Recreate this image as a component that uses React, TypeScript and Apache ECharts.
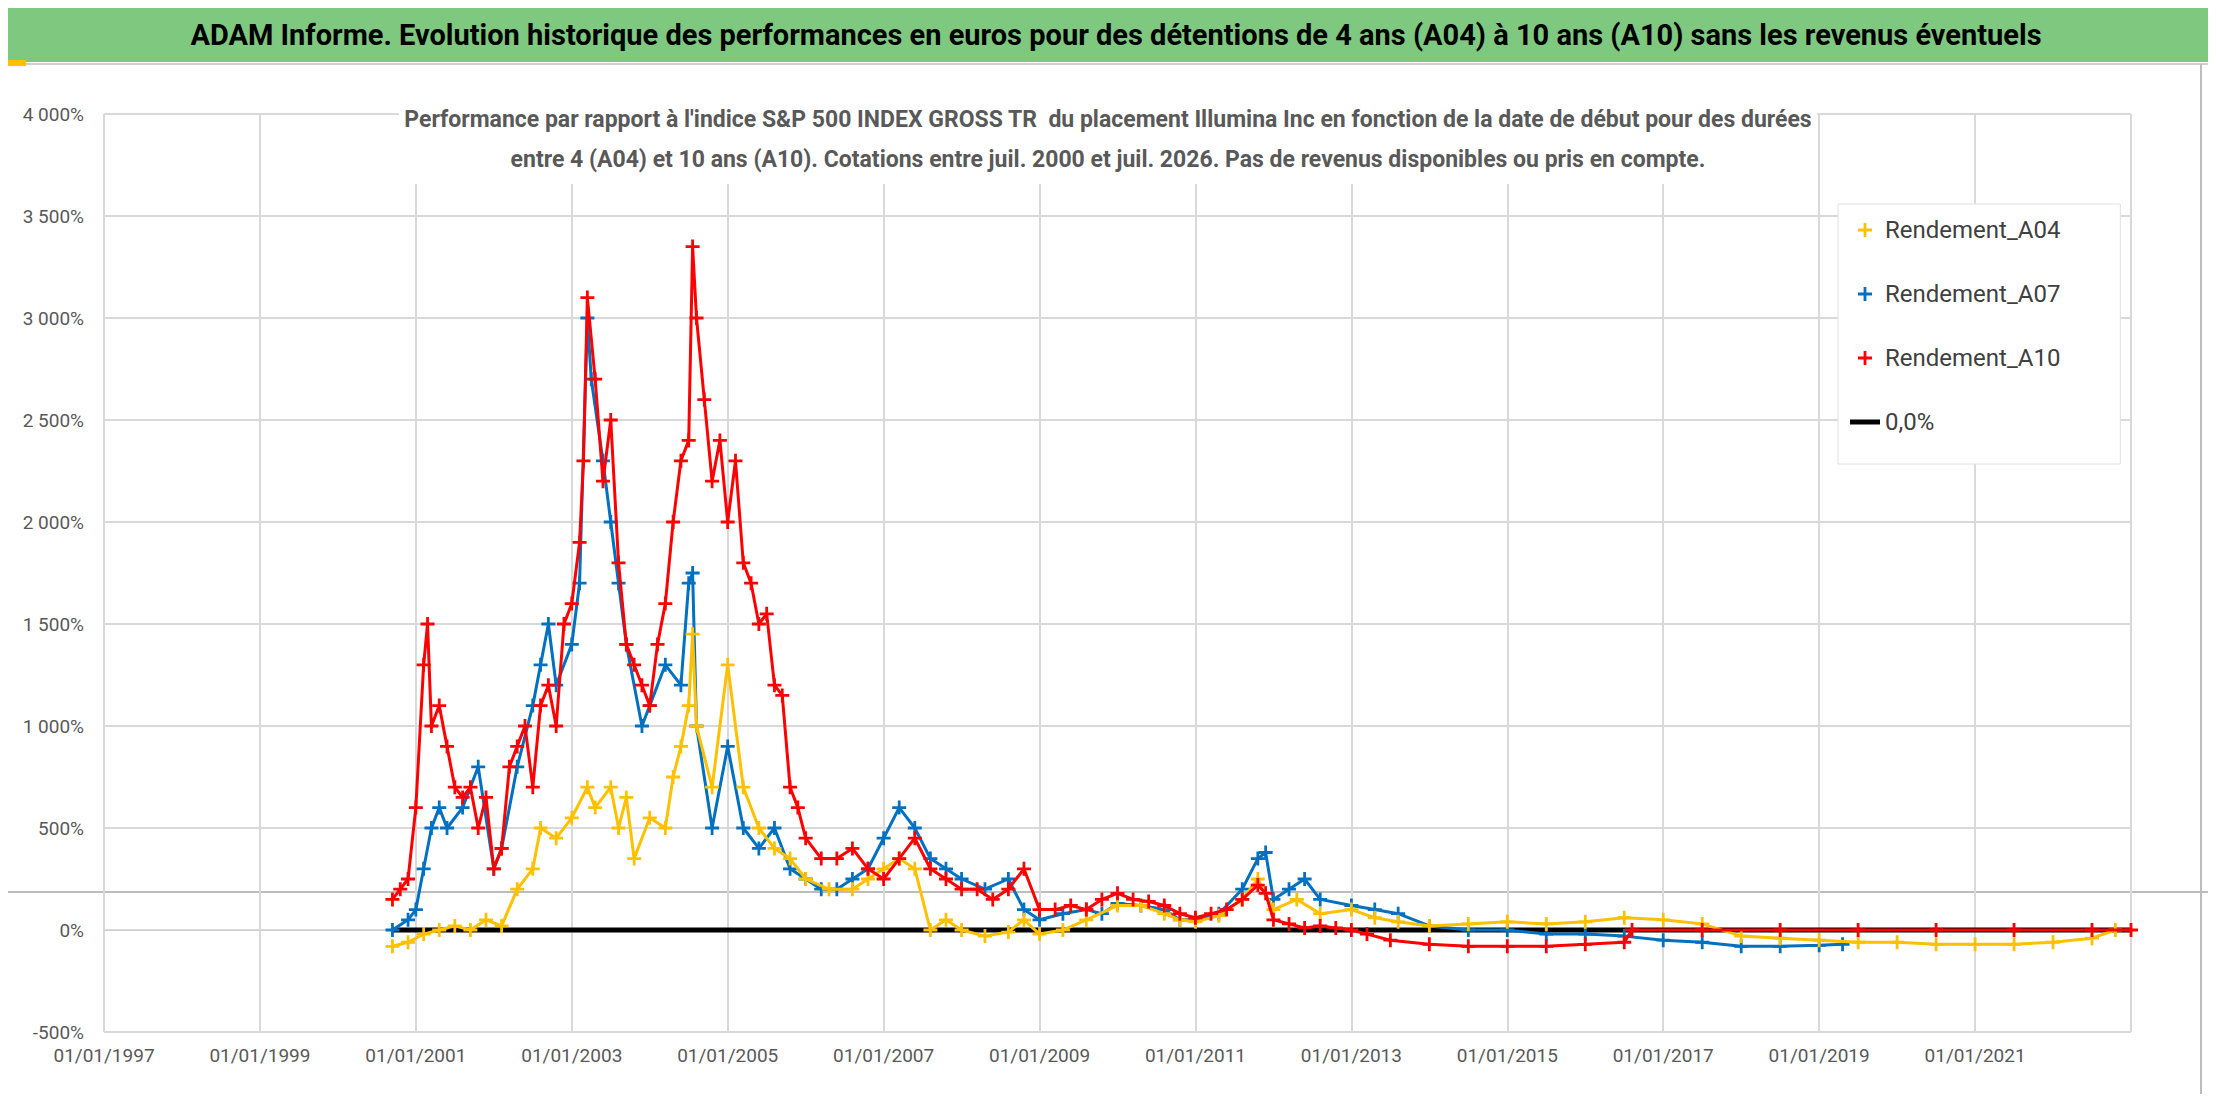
import { useEffect, useRef } from 'react';
import * as echarts from 'echarts';

const years = [1997, 1999, 2001, 2003, 2005, 2007, 2009, 2011, 2013, 2015, 2017, 2019, 2021];

const a10: [number, number][] = [
  [2000.7, 150], [2000.8, 200], [2000.9, 250], [2001.0, 600], [2001.1, 1300], [2001.15, 1500], [2001.2, 1000],
  [2001.3, 1100], [2001.4, 900], [2001.5, 700], [2001.6, 650], [2001.7, 700], [2001.8, 500], [2001.9, 650],
  [2002.0, 300], [2002.1, 400], [2002.2, 800], [2002.3, 900], [2002.4, 1000], [2002.5, 700], [2002.6, 1100],
  [2002.7, 1200], [2002.8, 1000], [2002.9, 1500], [2003.0, 1600], [2003.1, 1900], [2003.15, 2300], [2003.2, 3100],
  [2003.3, 2700], [2003.4, 2200], [2003.5, 2500], [2003.6, 1800], [2003.7, 1400], [2003.8, 1300], [2003.9, 1200],
  [2004.0, 1100], [2004.1, 1400], [2004.2, 1600], [2004.3, 2000], [2004.4, 2300], [2004.5, 2400], [2004.55, 3350],
  [2004.6, 3000], [2004.7, 2600], [2004.8, 2200], [2004.9, 2400], [2005.0, 2000], [2005.1, 2300], [2005.2, 1800],
  [2005.3, 1700], [2005.4, 1500], [2005.5, 1550], [2005.6, 1200], [2005.7, 1150], [2005.8, 700], [2005.9, 600],
  [2006.0, 450], [2006.2, 350], [2006.4, 350], [2006.6, 400], [2006.8, 300], [2007.0, 250], [2007.2, 350],
  [2007.4, 450], [2007.6, 300], [2007.8, 250], [2008.0, 200], [2008.2, 200], [2008.4, 150], [2008.6, 200],
  [2008.8, 300], [2009.0, 100], [2009.2, 100], [2009.4, 120], [2009.6, 100], [2009.8, 150], [2010.0, 180],
  [2010.2, 150], [2010.4, 140], [2010.6, 120], [2010.8, 80], [2011.0, 60], [2011.2, 80], [2011.4, 100],
  [2011.6, 150], [2011.8, 220], [2011.9, 180], [2012.0, 50], [2012.2, 30], [2012.4, 10], [2012.6, 20],
  [2012.8, 10], [2013.0, 0], [2013.2, -20], [2013.5, -50], [2014.0, -70], [2014.5, -80], [2015.0, -80],
  [2015.5, -80], [2016.0, -70], [2016.5, -60], [2016.6, 0], [2017.5, 0], [2018.5, 0], [2019.5, 0],
  [2020.5, 0], [2021.5, 0], [2022.5, 0], [2023.0, 0],
];

const a07: [number, number][] = [
  [2000.7, 0], [2000.9, 50], [2001.0, 100], [2001.1, 300], [2001.2, 500], [2001.3, 600], [2001.4, 500],
  [2001.6, 600], [2001.8, 800], [2002.0, 300], [2002.1, 400], [2002.3, 800], [2002.5, 1100], [2002.6, 1300],
  [2002.7, 1500], [2002.8, 1200], [2003.0, 1400], [2003.1, 1700], [2003.2, 3000], [2003.25, 2700],
  [2003.4, 2300], [2003.5, 2000], [2003.6, 1700], [2003.7, 1400], [2003.9, 1000], [2004.0, 1100],
  [2004.2, 1300], [2004.4, 1200], [2004.5, 1700], [2004.55, 1750], [2004.6, 1000], [2004.8, 500],
  [2005.0, 900], [2005.2, 500], [2005.4, 400], [2005.6, 500], [2005.8, 300], [2006.0, 250], [2006.2, 200],
  [2006.4, 200], [2006.6, 250], [2006.8, 300], [2007.0, 450], [2007.2, 600], [2007.4, 500], [2007.6, 350],
  [2007.8, 300], [2008.0, 250], [2008.3, 200], [2008.6, 250], [2008.8, 100], [2009.0, 50], [2009.3, 80],
  [2009.6, 100], [2009.8, 80], [2010.0, 130], [2010.3, 120], [2010.6, 100], [2010.8, 50], [2011.0, 50],
  [2011.3, 80], [2011.6, 200], [2011.8, 350], [2011.9, 380], [2012.0, 150], [2012.2, 200], [2012.4, 250],
  [2012.6, 150], [2013.0, 120], [2013.3, 100], [2013.6, 80], [2014.0, 20], [2014.5, 0], [2015.0, 0],
  [2015.5, -20], [2016.0, -20], [2016.5, -30], [2017.0, -50], [2017.5, -60], [2018.0, -80], [2018.5, -80],
  [2019.0, -75], [2019.3, -70],
];

const a04: [number, number][] = [
  [2000.7, -80], [2000.9, -60], [2001.1, -20], [2001.3, 0], [2001.5, 20], [2001.7, 0], [2001.9, 50],
  [2002.1, 20], [2002.3, 200], [2002.5, 300], [2002.6, 500], [2002.8, 450], [2003.0, 550], [2003.2, 700],
  [2003.3, 600], [2003.5, 700], [2003.6, 500], [2003.7, 650], [2003.8, 350], [2004.0, 550], [2004.2, 500],
  [2004.3, 750], [2004.4, 900], [2004.5, 1100], [2004.55, 1450], [2004.6, 1000], [2004.8, 700],
  [2005.0, 1300], [2005.2, 700], [2005.4, 500], [2005.6, 400], [2005.8, 350], [2006.0, 250], [2006.3, 200],
  [2006.6, 200], [2006.8, 250], [2007.0, 300], [2007.2, 350], [2007.4, 300], [2007.6, 0], [2007.8, 50],
  [2008.0, 0], [2008.3, -30], [2008.6, -10], [2008.8, 50], [2009.0, -20], [2009.3, 0], [2009.6, 50],
  [2010.0, 120], [2010.3, 120], [2010.6, 80], [2010.8, 50], [2011.0, 40], [2011.3, 70], [2011.6, 150],
  [2011.8, 250], [2012.0, 100], [2012.3, 150], [2012.6, 80], [2013.0, 100], [2013.3, 60], [2013.6, 40],
  [2014.0, 20], [2014.5, 30], [2015.0, 40], [2015.5, 30], [2016.0, 40], [2016.5, 60], [2017.0, 50],
  [2017.5, 30], [2018.0, -30], [2018.5, -40], [2019.0, -50], [2019.5, -60], [2020.0, -60], [2020.5, -70],
  [2021.0, -70], [2021.5, -70], [2022.0, -60], [2022.5, -40], [2022.8, 0],
];

const zeroLine: [number, number][] = [[2000.7, 0], [2023.0, 0]];

const PLUS = 'path://M4,0h2v4h4v2h-4v4h-2v-4h-4v-2h4z';
const FONT = 'Roboto';

const fmtPct = (v: number) => {
  const s = Math.abs(v) >= 1000 ? `${Math.floor(Math.abs(v) / 1000)} ${String(Math.abs(v) % 1000).padStart(3, '0')}` : String(Math.abs(v));
  return (v < 0 ? '-' : '') + s + '%';
};

export default function App() {
  const ref = useRef<HTMLDivElement>(null);

  useEffect(() => {
    if (!ref.current) return;
    const chart = echarts.init(ref.current, null, { renderer: 'svg' });

    const scatter = (name: string, color: string, data: [number, number][], z: number) => ({
      name,
      type: 'line',
      data,
      z,
      symbol: PLUS,
      symbolSize: 14,
      showAllSymbol: true,
      itemStyle: { color },
      lineStyle: { color, width: 3 },
    });

    chart.setOption({
      animation: false,
      backgroundColor: '#fff',
      title: {
        text: "Performance par rapport à l'indice S&P 500 INDEX GROSS TR  du placement Illumina Inc en fonction de la date de début pour des durées\nentre 4 (A04) et 10 ans (A10). Cotations entre juil. 2000 et juil. 2026. Pas de revenus disponibles ou pris en compte.",
        left: 'center',
        top: 86,
        textStyle: {
          fontFamily: FONT,
          fontSize: 23,
          fontWeight: 'bold',
          color: '#595959',
          lineHeight: 40,
        },
        backgroundColor: '#fff',
      },
      legend: {
        orient: 'vertical',
        left: 1830,
        top: 196,
        itemGap: 40,
        itemWidth: 30,
        itemHeight: 14,
        backgroundColor: '#fff',
        borderColor: '#e0e0e0',
        borderWidth: 1,
        padding: [14, 60, 30, 12],
        textStyle: { fontFamily: FONT, fontSize: 24, color: '#404040' },
        data: [
          { name: 'Rendement_A04', icon: PLUS },
          { name: 'Rendement_A07', icon: PLUS },
          { name: 'Rendement_A10', icon: PLUS },
          { name: '0,0%', icon: 'path://M0,0h30v5h-30z', itemStyle: { color: '#000' } },
        ],
      },
      grid: { left: 96, right: 77, top: 106, bottom: 62 },
      xAxis: {
        type: 'value',
        min: 1997,
        max: 2023,
        interval: 2,
        axisLine: { lineStyle: { color: '#d0d0d0' } },
        axisTick: { show: false },
        splitLine: { lineStyle: { color: '#d9d9d9', width: 2 } },
        axisLabel: {
          formatter: (v: number) => (years.includes(v) ? `01/01/${v}` : ''),
          fontFamily: FONT,
          fontSize: 19,
          color: '#595959',
          margin: 14,
        },
      },
      yAxis: {
        type: 'value',
        min: -500,
        max: 4000,
        interval: 500,
        axisLine: { show: false },
        axisTick: { show: false },
        splitLine: { lineStyle: { color: '#d9d9d9', width: 2 } },
        axisLabel: {
          formatter: fmtPct,
          fontFamily: FONT,
          fontSize: 19,
          color: '#595959',
          margin: 20,
        },
      },
      graphic: [
        { type: 'rect', shape: { x: 0, y: 0, width: 2216, height: 54 }, style: { fill: '#7ec87f' }, z: 100 },
        {
          type: 'text', x: 1108, y: 27, z: 101,
          style: {
            text: 'ADAM Informe. Evolution historique des performances en euros pour des détentions de 4 ans (A04) à 10 ans (A10) sans les revenus éventuels',
            fill: '#000', font: 'bold 29px Roboto', align: 'center', verticalAlign: 'middle',
          },
        },
        { type: 'line', shape: { x1: 0, y1: 56, x2: 2216, y2: 56 }, style: { stroke: '#d0d0d0', lineWidth: 2 } },
        { type: 'line', shape: { x1: 0, y1: 884, x2: 2216, y2: 884 }, style: { stroke: '#bdbdbd', lineWidth: 2 }, z: -1 },
        { type: 'line', shape: { x1: 2193, y1: 56, x2: 2193, y2: 1102 }, style: { stroke: '#bdbdbd', lineWidth: 2 } },
        { type: 'rect', shape: { x: 2200, y: 960, width: 12, height: 140 }, style: { fill: '#ffc000' } },
        { type: 'rect', shape: { x: 0, y: 52, width: 18, height: 6 }, style: { fill: '#ffc000' }, z: 102 },
      ],
      series: [
        { name: '0,0%', type: 'line', data: zeroLine, symbol: 'none', lineStyle: { color: '#000', width: 5 }, itemStyle: { color: '#000' }, z: 1 },
        scatter('Rendement_A04', '#ffc000', a04, 4),
        scatter('Rendement_A07', '#0070c0', a07, 3),
        scatter('Rendement_A10', '#ff0000', a10, 5),
      ],
    });

    return () => chart.dispose();
  }, []);

  return <div ref={ref} style={{ width: 2200, height: 1086 }} />;
}
